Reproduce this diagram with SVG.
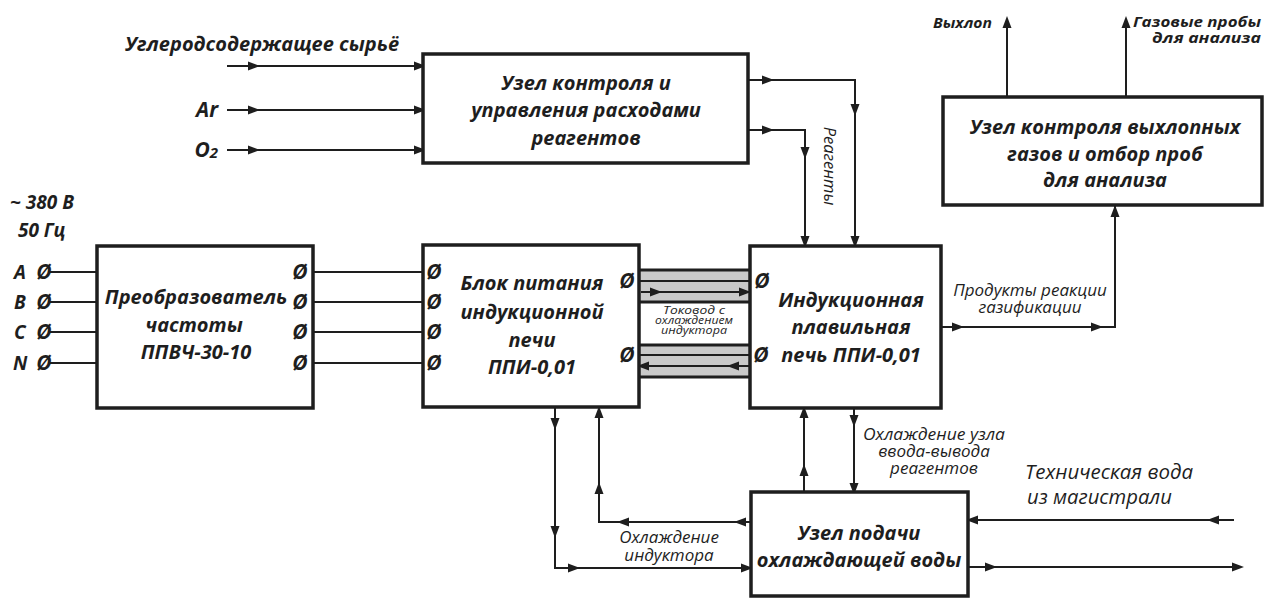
<svg xmlns="http://www.w3.org/2000/svg" xmlns:xlink="http://www.w3.org/1999/xlink" width="1265" height="599" viewBox="0 0 1265 599">
<style>
.box{fill:#fff;stroke:#1e1e1e;stroke-width:3.5}
.ln{fill:none;stroke:#1e1e1e;stroke-width:2}
.band{fill:#c9c9c9;stroke:none}
.bl{stroke:#1e1e1e;stroke-width:3}
.t{font-family:"Open Sans","Noto Sans","DejaVu Sans",sans-serif;font-style:italic;fill:#1e1e1e}
.b{font-weight:bold}
.big{font-size:20px;text-anchor:middle;font-weight:bold}
.lab{font-size:17px}
.term{font-size:21px;font-weight:bold;text-anchor:middle}
.ah{fill:#1e1e1e}
</style>
<defs>
<path id="a" d="M0,0 L-12,-4.5 L-12,4.5 Z"/>
</defs>

<g id="connectors">
  <!-- inputs to top box -->
  <line class="ln" x1="227" y1="66" x2="423" y2="66"/>
  <line class="ln" x1="227" y1="110" x2="423" y2="110"/>
  <line class="ln" x1="227" y1="150" x2="423" y2="150"/>
  <use href="#a" class="ah" transform="translate(260,66)"/>
  <use href="#a" class="ah" transform="translate(426,66)"/>
  <use href="#a" class="ah" transform="translate(260,110)"/>
  <use href="#a" class="ah" transform="translate(426,110)"/>
  <use href="#a" class="ah" transform="translate(260,150)"/>
  <use href="#a" class="ah" transform="translate(426,150)"/>
  <!-- reagents -->
  <path class="ln" d="M748,80 H855 V246"/>
  <path class="ln" d="M748,130 H805 V246"/>
  <use href="#a" class="ah" transform="translate(774,80)"/>
  <use href="#a" class="ah" transform="translate(774,130)"/>
  <use href="#a" class="ah" transform="translate(855,116) rotate(90)"/>
  <use href="#a" class="ah" transform="translate(805,159) rotate(90)"/>
  <use href="#a" class="ah" transform="translate(855,248) rotate(90)"/>
  <use href="#a" class="ah" transform="translate(805,248) rotate(90)"/>
  <!-- mains -->
  <line class="ln" x1="48" y1="272" x2="97" y2="272"/>
  <line class="ln" x1="48" y1="302" x2="97" y2="302"/>
  <line class="ln" x1="48" y1="332" x2="97" y2="332"/>
  <line class="ln" x1="48" y1="363" x2="97" y2="363"/>
  <line class="ln" x1="303" y1="272" x2="430" y2="272"/>
  <line class="ln" x1="303" y1="302" x2="430" y2="302"/>
  <line class="ln" x1="303" y1="332" x2="430" y2="332"/>
  <line class="ln" x1="303" y1="363" x2="430" y2="363"/>
  <!-- current lead bands -->
  <rect class="band" x="639" y="270" width="111" height="32"/>
  <rect class="band" x="639" y="345" width="111" height="32"/>
  <line class="bl" x1="639" y1="270" x2="750" y2="270"/>
  <line class="bl" x1="639" y1="302" x2="750" y2="302"/>
  <line class="bl" x1="639" y1="345" x2="750" y2="345"/>
  <line class="bl" x1="639" y1="377" x2="750" y2="377"/>
  <line class="ln" x1="628" y1="281" x2="762" y2="281"/>
  <line class="ln" x1="628" y1="355" x2="762" y2="355"/>
  <line class="ln" x1="641" y1="292" x2="750" y2="292"/>
  <line class="ln" x1="639" y1="366" x2="750" y2="366"/>
  <use href="#a" class="ah" transform="translate(662,292)"/>
  <use href="#a" class="ah" transform="translate(751,292)"/>
  <use href="#a" class="ah" transform="translate(727,366) rotate(180)"/>
  <use href="#a" class="ah" transform="translate(637,366) rotate(180)"/>
  <!-- gasification products -->
  <path class="ln" d="M941,327 H1115 V206"/>
  <use href="#a" class="ah" transform="translate(964,327)"/>
  <use href="#a" class="ah" transform="translate(1103,327)"/>
  <use href="#a" class="ah" transform="translate(1115,205) rotate(-90)"/>
  <!-- exhaust outputs -->
  <line class="ln" x1="1007" y1="97" x2="1007" y2="20"/>
  <line class="ln" x1="1126" y1="97" x2="1126" y2="20"/>
  <use href="#a" class="ah" transform="translate(1007,16) rotate(-90)"/>
  <use href="#a" class="ah" transform="translate(1126,16) rotate(-90)"/>
  <!-- furnace <-> water unit -->
  <line class="ln" x1="804" y1="492" x2="804" y2="410"/>
  <use href="#a" class="ah" transform="translate(804,464) rotate(-90)"/>
  <use href="#a" class="ah" transform="translate(804,406) rotate(-90)"/>
  <line class="ln" x1="854" y1="408" x2="854" y2="490"/>
  <use href="#a" class="ah" transform="translate(854,427) rotate(90)"/>
  <use href="#a" class="ah" transform="translate(854,495) rotate(90)"/>
  <!-- power block cooling -->
  <path class="ln" d="M555,407 V568 H750"/>
  <use href="#a" class="ah" transform="translate(555,430) rotate(90)"/>
  <use href="#a" class="ah" transform="translate(555,538) rotate(90)"/>
  <use href="#a" class="ah" transform="translate(580,568)"/>
  <use href="#a" class="ah" transform="translate(753,568)"/>
  <path class="ln" d="M751,522 H599 V410"/>
  <use href="#a" class="ah" transform="translate(734,522) rotate(180)"/>
  <use href="#a" class="ah" transform="translate(617,522) rotate(180)"/>
  <use href="#a" class="ah" transform="translate(599,482) rotate(-90)"/>
  <use href="#a" class="ah" transform="translate(599,406) rotate(-90)"/>
  <!-- process water -->
  <line class="ln" x1="1234" y1="520" x2="970" y2="520"/>
  <use href="#a" class="ah" transform="translate(1207,520) rotate(180)"/>
  <use href="#a" class="ah" transform="translate(966,520) rotate(180)"/>
  <line class="ln" x1="968" y1="567" x2="1238" y2="567"/>
  <use href="#a" class="ah" transform="translate(997,567)"/>
  <use href="#a" class="ah" transform="translate(1244,567)"/>
</g>

<g id="node-flow-control">
  <rect class="box" x="423" y="54" width="325" height="109"/>
  <text class="t big" x="586" y="90">Узел контроля и</text>
  <text class="t big" x="586" y="117">управления расходами</text>
  <text class="t big" x="586" y="145">реагентов</text>
</g>

<g id="node-exhaust">
  <rect class="box" x="943" y="97" width="319" height="108"/>
  <text class="t big" x="1105" y="134">Узел контроля выхлопных</text>
  <text class="t big" x="1105" y="161">газов и отбор проб</text>
  <text class="t big" x="1105" y="187">для анализа</text>
</g>

<g id="node-converter">
  <rect class="box" x="97" y="246" width="216" height="162"/>
  <text class="t big" x="196" y="304">Преобразователь</text>
  <text class="t big" x="194" y="332">частоты</text>
  <text class="t big" x="196" y="359">ППВЧ-30-10</text>
  <text class="t term" x="300" y="279">Ø</text>
  <text class="t term" x="300" y="309">Ø</text>
  <text class="t term" x="300" y="339">Ø</text>
  <text class="t term" x="300" y="370">Ø</text>
</g>

<g id="node-power">
  <rect class="box" x="423" y="245" width="216" height="162"/>
  <text class="t big" x="532" y="290">Блок питания</text>
  <text class="t big" x="532" y="319">индукционной</text>
  <text class="t big" x="532" y="347">печи</text>
  <text class="t big" x="532" y="374">ППИ-0,01</text>
  <text class="t term" x="434" y="279">Ø</text>
  <text class="t term" x="434" y="309">Ø</text>
  <text class="t term" x="434" y="339">Ø</text>
  <text class="t term" x="434" y="370">Ø</text>
  <text class="t term" x="627" y="288">Ø</text>
  <text class="t term" x="627" y="362">Ø</text>
</g>

<g id="node-furnace">
  <rect class="box" x="750" y="246" width="191" height="162"/>
  <text class="t big" x="851" y="307">Индукционная</text>
  <text class="t big" x="851" y="334">плавильная</text>
  <text class="t big" x="851" y="362">печь ППИ-0,01</text>
  <text class="t term" x="762" y="288">Ø</text>
  <text class="t term" x="761" y="362">Ø</text>
</g>

<g id="node-water">
  <rect class="box" x="751" y="492" width="217" height="104"/>
  <text class="t big" x="859" y="540">Узел подачи</text>
  <text class="t big" x="859" y="567">охлаждающей воды</text>
</g>

<g id="labels">
  <text class="t b" x="125" y="51" font-size="20">Углеродсодержащее сырьё</text>
  <text class="t b" x="218" y="117" font-size="21" text-anchor="end">Ar</text>
  <text class="t b" x="218" y="157" font-size="21" text-anchor="end">O<tspan font-size="15" dy="1">2</tspan></text>
  <text class="t b" x="10" y="209" font-size="19">~ 380 В</text>
  <text class="t b" x="18" y="237" font-size="19">50 Гц</text>
  <text class="t b" x="14" y="279" font-size="19">A</text>
  <text class="t b" x="14" y="309" font-size="19">B</text>
  <text class="t b" x="14" y="339" font-size="19">C</text>
  <text class="t b" x="13" y="370" font-size="19">N</text>
  <text class="t term" x="44" y="279">Ø</text>
  <text class="t term" x="44" y="309">Ø</text>
  <text class="t term" x="44" y="339">Ø</text>
  <text class="t term" x="44" y="370">Ø</text>
  <text class="t" x="829" y="166" font-size="16.5" text-anchor="middle" transform="rotate(90 829 166)" dy="5">Реагенты</text>
  <text class="t" x="694" y="314" font-size="10" text-anchor="middle" textLength="62" lengthAdjust="spacingAndGlyphs">Токовод с</text>
  <text class="t" x="694" y="324" font-size="10" text-anchor="middle" textLength="78" lengthAdjust="spacingAndGlyphs">охлаждением</text>
  <text class="t" x="694" y="334" font-size="10" text-anchor="middle" textLength="66" lengthAdjust="spacingAndGlyphs">индуктора</text>
  <text class="t lab" x="1030" y="296" text-anchor="middle">Продукты реакции</text>
  <text class="t lab" x="1030" y="313" text-anchor="middle">газификации</text>
  <text class="t b" x="992" y="28" font-size="15" text-anchor="end" textLength="59" lengthAdjust="spacingAndGlyphs">Выхлоп</text>
  <text class="t b" x="1133" y="27" font-size="15" textLength="128" lengthAdjust="spacingAndGlyphs">Газовые пробы</text>
  <text class="t b" x="1261" y="43" font-size="15" text-anchor="end" textLength="109" lengthAdjust="spacingAndGlyphs">для анализа</text>
  <text class="t lab" x="863" y="440" textLength="142" lengthAdjust="spacingAndGlyphs">Охлаждение узла</text>
  <text class="t lab" x="934" y="457" text-anchor="middle">ввода-вывода</text>
  <text class="t lab" x="934" y="474" text-anchor="middle">реагентов</text>
  <text class="t lab" x="669" y="543" text-anchor="middle">Охлаждение</text>
  <text class="t lab" x="669" y="561" text-anchor="middle">индуктора</text>
  <text class="t" x="1025" y="479" font-size="20" textLength="168" lengthAdjust="spacingAndGlyphs">Техническая вода</text>
  <text class="t" x="1027" y="504" font-size="20" textLength="145" lengthAdjust="spacingAndGlyphs">из магистрали</text>
</g>
</svg>
